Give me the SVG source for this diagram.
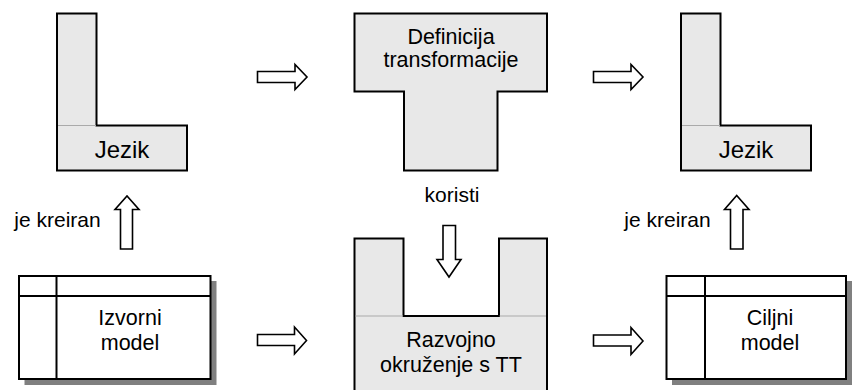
<svg xmlns="http://www.w3.org/2000/svg" width="852" height="390" viewBox="0 0 852 390">
<style>
.sh{fill:#e8e8e8;stroke:#000;stroke-width:2}
.sep{stroke:#aaa;stroke-width:1.2}
.tb{fill:#fff;stroke:#000;stroke-width:2}
.shadow{fill:#808080}
.ln{stroke:#000;stroke-width:2;fill:none}
.ar{fill:#fff;stroke:#000;stroke-width:1.6;stroke-linejoin:miter}
text{font-family:"Liberation Sans",Arial,sans-serif;fill:#000;text-anchor:middle}
.big{font-size:21.5px}
.jz{font-size:24px}
.sm{font-size:21px}
</style>
<g id="jezik-left">
<path class="sh" d="M57,13.5 H96.5 V125.5 H187 V170.5 H57 Z"/>
<line class="sep" x1="58" y1="125.5" x2="96" y2="125.5"/>
<text class="jz" x="122" y="158">Jezik</text>
</g>
<g id="definicija">
<path class="sh" d="M354.5,13.5 H547 V91.5 H497.5 V170.5 H404 V91.5 H354.5 Z"/>
<text class="big" x="451" y="44">Definicija</text>
<text class="big" x="451" y="67">transformacije</text>
</g>
<g id="jezik-right">
<path class="sh" d="M681,13.5 H720.5 V125.5 H811 V170.5 H681 Z"/>
<line class="sep" x1="682" y1="125.5" x2="720" y2="125.5"/>
<text class="jz" x="746" y="158">Jezik</text>
</g>
<g id="izvorni-model">
<rect class="shadow" x="24.5" y="281" width="192" height="104"/>
<rect class="tb" x="19" y="276" width="191.5" height="103"/>
<line class="ln" x1="19" y1="296" x2="210.5" y2="296"/>
<line class="ln" x1="56.5" y1="276" x2="56.5" y2="379"/>
<text class="big" x="130" y="325">Izvorni</text>
<text class="big" x="130" y="350">model</text>
</g>
<g id="razvojno">
<path class="sh" d="M354.5,392 V238.5 H403.5 V316 H499 V238.5 H547 V392"/>
<line class="sep" x1="355.5" y1="316" x2="403" y2="316"/>
<line class="sep" x1="499.5" y1="316" x2="546" y2="316"/>
<text class="big" x="451" y="347">Razvojno</text>
<text class="big" x="451" y="372">okruženje s TT</text>
</g>
<g id="ciljni-model">
<rect class="shadow" x="672" y="281" width="180" height="104"/>
<rect class="tb" x="666.5" y="276" width="179.5" height="103"/>
<line class="ln" x1="666.5" y1="296" x2="846" y2="296"/>
<line class="ln" x1="705" y1="276" x2="705" y2="379"/>
<text class="big" x="770" y="325">Ciljni</text>
<text class="big" x="770" y="350">model</text>
</g>
<g id="connectors">
<path class="ar" d="M257.5,71.5 H295 V64.5 L307,77 L295,89.5 V82.5 H257.5 Z"/>
<path class="ar" d="M593.5,71.5 H631 V64.5 L643,77 L631,89.5 V82.5 H593.5 Z"/>
<path class="ar" d="M257.5,334.5 H294.5 V327 L306.5,340.5 L294.5,354 V345.5 H257.5 Z"/>
<path class="ar" d="M593.5,335 H631 V327.5 L643,341 L631,354.5 V346 H593.5 Z"/>
<path class="ar" d="M120.5,249 V209.5 H115 L127,196 L139,209.5 H132.5 V249 Z"/>
<path class="ar" d="M730.5,249 V209.5 H724.5 L736.7,195.5 L749,209.5 H743 V249 Z"/>
<path class="ar" d="M443,225.5 V259.5 H437 L449,277 L461,259.5 H455.5 V225.5 Z"/>
<text class="sm" x="57.5" y="226.5">je kreiran</text>
<text class="sm" x="667.5" y="226.5">je kreiran</text>
<text class="sm" x="452" y="201.5">koristi</text>
</g>
</svg>
